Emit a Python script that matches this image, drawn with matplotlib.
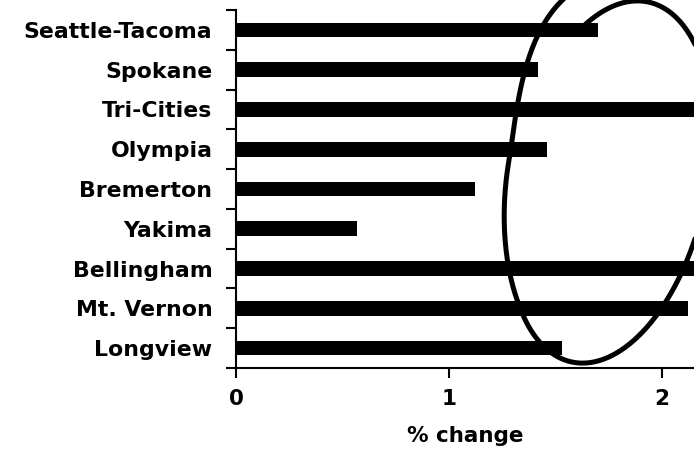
import numpy as np
import matplotlib.pyplot as plt

plt.rcParams['font.family'] = ['DejaVu Sans']
plt.rcParams['font.weight'] = 'bold'

# Data
cities = ["Seattle-Tacoma", "Spokane", "Tri-Cities", "Olympia", "Bremerton",
          "Yakima", "Bellingham", "Mt. Vernon", "Longview"]
pct_change = [1.70, 1.42, 2.30, 1.46, 1.12, 0.57, 2.25, 2.12, 1.53]
x_ticks = [0, 1, 2]

fig = plt.figure(figsize=(6.94, 4.51), dpi=100)
ax = fig.add_axes([236 / 694, 83 / 451, 1 - 236 / 694, 358 / 451])

ypos = np.arange(len(cities))
ax.barh(ypos, pct_change, height=0.37, color="black")

ax.set_xlim(0, 2.15)
ax.set_ylim(len(cities) - 0.5, -0.5)

ax.set_yticks(ypos)
ax.set_yticklabels(cities, fontsize=15.8, fontweight="bold")
ax.tick_params(axis="y", which="major", length=0, pad=17)
ax.set_yticks(np.arange(len(cities) + 1) - 0.5, minor=True)
ax.tick_params(axis="y", which="minor", length=7, width=1.5, direction="out")

ax.set_xticks(x_ticks)
ax.set_xticklabels([str(t) for t in x_ticks], fontsize=15.5, fontweight="bold")
ax.tick_params(axis="x", length=7, width=1.5, direction="out", pad=8)
ax.set_xlabel("% change", fontsize=15.5, fontweight="bold", labelpad=12)

for s in ["top", "right"]:
    ax.spines[s].set_visible(False)
for s in ["left", "bottom"]:
    ax.spines[s].set_linewidth(1.5)

# hand-drawn loop around the long bars (pixel space -> inches)
cx, cy, a, b, ang = 610, 182, 184, 97, np.radians(12)
tdeg = np.linspace(128, -250, 600)
t = np.radians(tdeg)
s_tail = np.clip((-tdeg - 180) / 70, 0, 1)
kb = 1 + 0.065 * np.clip((-tdeg - 130) / 50, 0, 1) + 0.7 * s_tail ** 1.5
ka = 1 + 0.12 * s_tail
xp = b * kb * np.cos(t)
yp = a * ka * np.sin(t)
dx = xp * np.cos(ang) + yp * np.sin(ang)
dy = -xp * np.sin(ang) + yp * np.cos(ang)
px = cx + dx
py = cy - dy
fig.add_artist(plt.Line2D(px / 100, (451 - py) / 100, transform=fig.dpi_scale_trans,
                          color="black", lw=3.6, solid_capstyle="round"))

fig.savefig("out.png", dpi=100)
